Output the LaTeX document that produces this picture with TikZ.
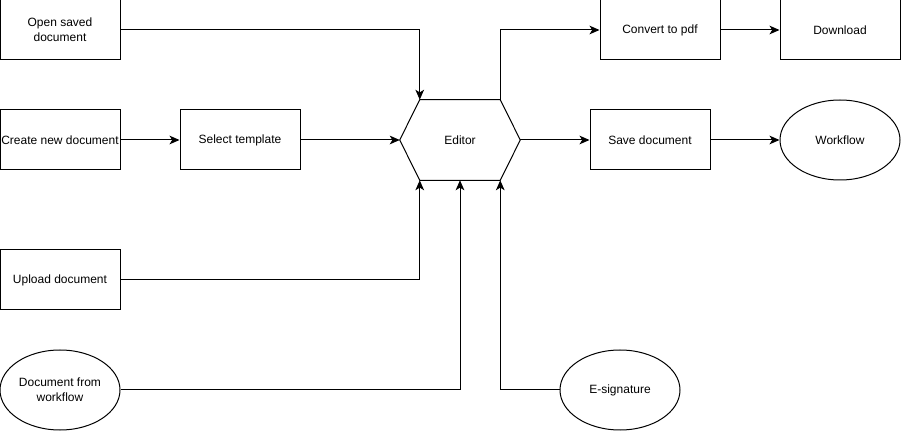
\documentclass[tikz,border=0pt]{standalone}
\usepackage{fontspec}
\setmainfont{Liberation Sans}
\usetikzlibrary{arrows.meta,shapes.geometric,calc}
\begin{document}
\begin{tikzpicture}[x=0.75pt,y=-0.75pt,
  box/.style={draw,line width=0.75pt,minimum width=90pt,minimum height=45pt,inner sep=0pt,align=center,font=\fontsize{9}{11}\selectfont},
  oval/.style={draw,ellipse,line width=0.75pt,minimum width=90pt,minimum height=60pt,inner sep=0pt,align=center,font=\fontsize{9}{11}\selectfont},
  conn/.style={line width=0.75pt,-{Stealth[length=7.5pt,width=6.5pt,inset=2pt]}}]
\useasboundingbox (0,0) rectangle (901,431);
\node[box] (open) at (60,30) {Open saved\\document};
\node[box] (create) at (60,140) {Create new document};
\node[box] (tmpl) at (240,140) {Select template};
\node[box] (upload) at (60,280) {Upload document};
\node[oval] (dwf) at (60,390) {Document from\\workflow};
\node[inner sep=0pt,minimum width=90pt,minimum height=60pt,font=\fontsize{9}{11}\selectfont] (ed) at (460,140) {Editor};
\coordinate (edtl) at ($(ed.north west)+(20,0)$);
\coordinate (edtr) at ($(ed.north east)+(-20,0)$);
\coordinate (edbl) at ($(ed.south west)+(20,0)$);
\coordinate (edbr) at ($(ed.south east)+(-20,0)$);
\draw[line width=0.75pt] (ed.west) -- (edtl) -- (edtr) -- (ed.east) -- (edbr) -- (edbl) -- cycle;
\node[box] (conv) at (660,30) {Convert to pdf};
\node[box] (down) at (840,30) {Download};
\node[box] (save) at (650,140) {Save document};
\node[oval] (wf) at (840,140) {Workflow};
\node[oval] (esig) at (620,390) {E-signature};
\draw[conn] (open.east) -| (edtl);
\draw[conn] (create.east) -- (tmpl.west);
\draw[conn] (tmpl.east) -- (ed.west);
\draw[conn] (upload.east) -| (edbl);
\draw[conn] (dwf.east) -| (ed.south);
\draw[conn] (esig.west) -| (edbr);
\draw[conn] (edtr) |- (conv.west);
\draw[conn] (conv.east) -- (down.west);
\draw[conn] (ed.east) -- (save.west);
\draw[conn] (save.east) -- (wf.west);
\end{tikzpicture}
\end{document}
